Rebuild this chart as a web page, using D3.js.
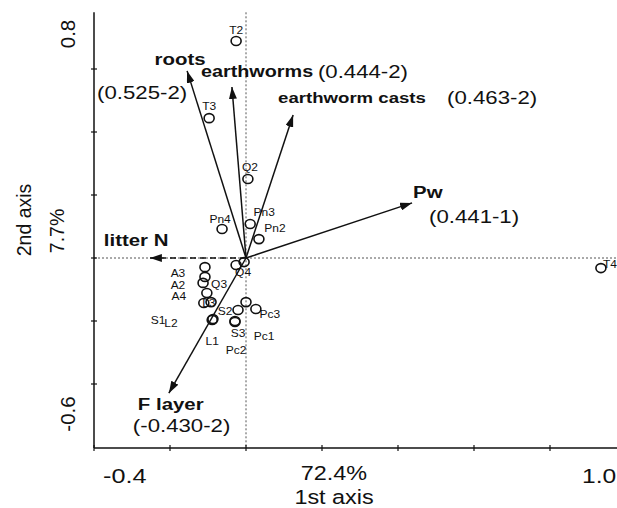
<!DOCTYPE html>
<meta charset="utf-8"/>
<head>
<style>
  body { margin:0; background:#fff; }
  text { font-family: "Liberation Sans", Arial, sans-serif; fill:#111; }
</style>
<script src="https://cdn.jsdelivr.net/npm/d3@7"></script>
</head>
<body>
<script>
  // site scores (ordination axis 1 / axis 2)
  var siteNames = ["T2","T3","T4","Q2","Pn3","Pn2","Pn4","Q4","","A3","A2","Q3","A4","L3","S1","L2","L1","S2","S3","Pc2","Pc1","Pc3"];
  var siteX = [-0.026,-0.097,0.934,0.005,0.011,0.034,-0.063,-0.005,-0.026,-0.108,-0.108,-0.113,-0.103,-0.111,-0.092,-0.087,-0.089,-0.021,-0.029,-0.029,0.000,0.026];
  var siteY = [0.689,0.444,-0.032,0.251,0.108,0.060,0.092,-0.013,-0.022,-0.029,-0.060,-0.079,-0.111,-0.143,-0.140,-0.194,-0.197,-0.165,-0.200,-0.203,-0.140,-0.162];

  // environmental vectors
  var envNames = ["roots","earthworms","earthworm casts","Pw","litter N","F layer"];
  var envX = [-0.155,-0.037,0.124,0.437,-0.253,-0.203];
  var envY = [0.594,0.543,0.454,0.175,0.0,-0.429];
  var envValues = ["(0.525-2)","(0.444-2)","(0.463-2)","(0.441-1)","","(-0.430-2)"];

  var xTicks = [-0.4,-0.2,0,0.2,0.4,0.6,0.8];
  var yTicks = [-0.4,-0.2,0,0.2,0.4,0.6];
  var xTickLabels = ["-0.4","72.4%","1.0"];
  var yTickLabels = ["0.8","7.7%","-0.6"];

  var width = 617, height = 508;
  var svg = d3.select("body").append("svg")
    .attr("width", width)
    .attr("height", height);

  var x = d3.scaleLinear().domain([-0.4, 1.0]).range([94, 626]);
  var y = d3.scaleLinear().domain([-0.6, 0.8]).range([447, 6]);
  var axisY = y(-0.6) + 1, axisTop = y(0.78);

  // horizontally stretched text, like the original figure
  function txt(px, py, str, size, weight, anchor){
    svg.append("g")
      .attr("transform", "translate(" + px + "," + py + ") scale(1.2,1)")
      .append("text")
      .attr("font-size", size)
      .attr("font-weight", weight || "normal")
      .attr("text-anchor", anchor || "start")
      .text(str);
  }
  function vtxt(px, py, str, size){
    svg.append("text")
      .attr("transform", "translate(" + px + "," + py + ") rotate(-90)")
      .attr("font-size", size)
      .attr("text-anchor", "middle")
      .text(str);
  }

  svg.append("defs").append("marker")
    .attr("id", "head")
    .attr("viewBox", "0 0 12 8")
    .attr("refX", 12).attr("refY", 4)
    .attr("markerWidth", 12).attr("markerHeight", 8)
    .attr("markerUnits", "userSpaceOnUse")
    .attr("orient", "auto")
    .append("path").attr("d", "M0,0 L12,4 L0,8 Z").attr("fill", "#111");

  // zero lines
  svg.append("line")
    .attr("x1", x(0)).attr("x2", x(0)).attr("y1", axisTop).attr("y2", axisY)
    .attr("stroke", "#555").attr("stroke-dasharray", "2,2");
  svg.append("line")
    .attr("x1", x(-0.4)).attr("x2", width).attr("y1", y(0)).attr("y2", y(0))
    .attr("stroke", "#555").attr("stroke-dasharray", "2,2");

  // axes
  svg.append("line").attr("x1", x(-0.4)).attr("x2", x(-0.4)).attr("y1", axisTop).attr("y2", axisY)
    .attr("stroke", "#111").attr("stroke-width", 1.5);
  svg.append("line").attr("x1", x(-0.4)).attr("x2", width).attr("y1", axisY).attr("y2", axisY)
    .attr("stroke", "#111").attr("stroke-width", 1.5);
  svg.selectAll(".xt").data(xTicks).enter().append("line")
    .attr("x1", d => x(d)).attr("x2", d => x(d)).attr("y1", axisY - 3).attr("y2", axisY + 3)
    .attr("stroke", "#111").attr("stroke-width", 1.2);
  svg.selectAll(".yt").data(yTicks).enter().append("line")
    .attr("y1", d => y(d)).attr("y2", d => y(d)).attr("x1", x(-0.4) - 3).attr("x2", x(-0.4) + 3)
    .attr("stroke", "#111").attr("stroke-width", 1.2);

  txt(x(-0.4) + 9, axisY + 35, xTickLabels[0], 21);
  txt(x(0.2) + 12, axisY + 32, xTickLabels[1], 19.5, "normal", "middle");
  txt(width - 35, axisY + 35, xTickLabels[2], 20.5);
  txt(x(0.2) + 12, axisY + 56, "1st axis", 19.5, "normal", "middle");

  vtxt(75, y(0.8) + 28, yTickLabels[0], 20.5);
  vtxt(64, y(0) - 27, yTickLabels[1], 19.5);
  vtxt(75, y(-0.6) - 33, yTickLabels[2], 20.5);
  vtxt(31, y(0) - 38, "2nd axis", 19.5);

  // vectors
  var envLab = [
    {dx:-7, dy:-6, anchor:"middle", vdx:-90, vdy:28},
    {dx:-31, dy:-10, anchor:"start", vdx:86, vdy:-9},
    {dx:-15, dy:-12, anchor:"start", vdx:154, vdy:-11},
    {dx:1, dy:-5, anchor:"start", vdx:17, vdy:20},
    {dx:-46, dy:-12, anchor:"start", vdx:0, vdy:0},
    {dx:-31, dy:17, anchor:"start", vdx:-36, vdy:39}
  ];
  var envSize = [17, 16.5, 15.5, 17, 17, 17];
  envNames.forEach(function(n, i){
    svg.append("line")
      .attr("x1", x(0)).attr("y1", y(0))
      .attr("x2", x(envX[i])).attr("y2", y(envY[i]))
      .attr("stroke", "#111").attr("stroke-width", 1.5)
      .attr("stroke-dasharray", n == "litter N" ? "6,4" : null)
      .attr("marker-end", "url(#head)");
    var L = envLab[i];
    txt(x(envX[i]) + L.dx, y(envY[i]) + L.dy, n, envSize[i], "bold", L.anchor);
    if (envValues[i]) txt(x(envX[i]) + L.vdx, y(envY[i]) + L.vdy, envValues[i], 18.5);
  });

  // sites
  var siteOff = {
    "T2":[0,-11],"T3":[0,-12],"T4":[9,-4],"Q2":[2,-12],"Pn3":[14,-12],"Pn2":[16,-11],"Pn4":[-2,-10],
    "Q4":[-1,10],"A3":[-27,6],"A2":[-27,8],"Q3":[16,1],"A4":[-28,3],"L3":[5,0],"S1":[-53,18],
    "L2":[-42,4],"L1":[0,21],"S2":[-13,1],"S3":[3,12],"Pc2":[1,28],"Pc1":[18,34],"Pc3":[14,5]
  };
  siteNames.forEach(function(n, i){
    svg.append("ellipse")
      .attr("cx", x(siteX[i])).attr("cy", y(siteY[i]))
      .attr("rx", 5).attr("ry", 4.5)
      .attr("fill", "none").attr("stroke", "#111").attr("stroke-width", 1.6);
  });
  siteNames.forEach(function(n, i){
    if (!n) return;
    var o = siteOff[n];
    svg.append("g")
      .attr("transform", "translate(" + (x(siteX[i]) + o[0]) + "," + (y(siteY[i]) + o[1]) + ") scale(1.2,1)")
      .append("text")
      .attr("font-size", 10)
      .attr("text-anchor", "middle")
      .attr("dominant-baseline", "central")
      .text(n);
  });
</script>
</body>
